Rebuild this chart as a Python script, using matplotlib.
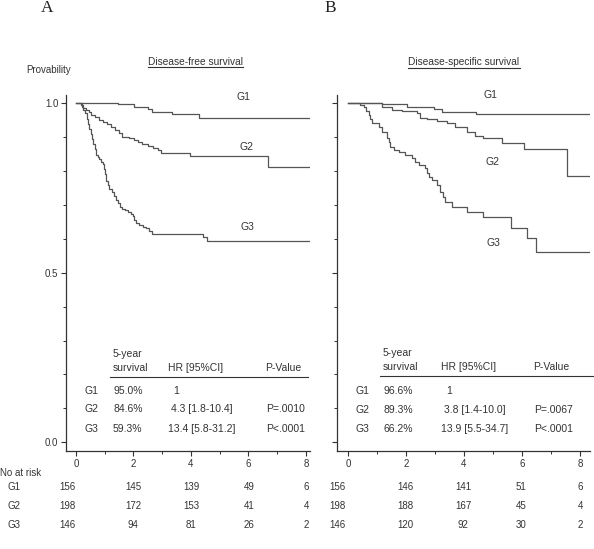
import matplotlib
matplotlib.use("Agg")
import matplotlib.pyplot as plt
from matplotlib.lines import Line2D
from matplotlib.ticker import MultipleLocator

W, H = 594, 549
plt.rcParams['font.family'] = ['Liberation Sans', 'DejaVu Sans']

# ---------------- data ----------------
years_ticks = [0, 2, 4, 6, 8]
groups = ["G1", "G2", "G3"]

# Disease-free survival (panel A): step times (years) and survival after each step
dfs_g1_t = [0, 1.47, 2.03, 2.49, 2.64, 3.34, 4.28, 8.14]
dfs_g1_s = [1.0, 0.997, 0.990, 0.983, 0.975, 0.968, 0.958, 0.958]

dfs_g2_t = [0, 0.17, 0.25, 0.35, 0.44, 0.53, 0.67, 0.81, 0.95, 1.07, 1.22, 1.37,
            1.51, 1.60, 1.86, 2.03, 2.15, 2.30, 2.49, 2.69, 2.84, 2.96, 3.97, 6.67, 8.14]
dfs_g2_s = [1.0, 0.995, 0.987, 0.980, 0.973, 0.965, 0.960, 0.952, 0.946, 0.938, 0.931, 0.922,
            0.912, 0.901, 0.897, 0.892, 0.887, 0.879, 0.874, 0.869, 0.862, 0.852, 0.845, 0.811, 0.811]

dfs_g3_t = [0, 0.17, 0.20, 0.26, 0.33, 0.37, 0.42, 0.46, 0.51, 0.56, 0.60, 0.65, 0.70,
            0.76, 0.81, 0.88, 0.93, 0.97, 1.00, 1.04, 1.10, 1.16, 1.24, 1.33, 1.39, 1.45,
            1.52, 1.60, 1.70, 1.80, 1.90, 1.97, 2.03, 2.09, 2.20, 2.32, 2.45, 2.55, 2.64,
            4.42, 4.54, 8.14]
dfs_g3_s = [1.0, 1.0, 0.990, 0.980, 0.970, 0.955, 0.940, 0.925, 0.910, 0.895, 0.880, 0.865, 0.848,
            0.842, 0.836, 0.828, 0.820, 0.805, 0.790, 0.770, 0.758, 0.748, 0.738, 0.728, 0.715, 0.705,
            0.695, 0.688, 0.684, 0.679, 0.674, 0.668, 0.657, 0.646, 0.640, 0.636, 0.631, 0.623, 0.614,
            0.607, 0.594, 0.594]

# Disease-specific survival (panel B)
dss_g1_t = [0, 1.17, 2.03, 2.95, 3.24, 4.41, 8.34]
dss_g1_s = [1.0, 0.997, 0.988, 0.983, 0.975, 0.968, 0.968]

dss_g2_t = [0, 1.17, 1.52, 1.86, 2.38, 2.49, 2.72, 3.07, 3.41, 3.70, 4.09, 4.38, 4.67,
            5.30, 6.07, 7.56, 8.34]
dss_g2_s = [1.0, 0.988, 0.980, 0.977, 0.970, 0.958, 0.954, 0.948, 0.941, 0.931, 0.916, 0.904, 0.897,
            0.884, 0.864, 0.786, 0.786]

dss_g3_t = [0, 0.43, 0.54, 0.62, 0.71, 0.77, 0.83, 1.06, 1.17, 1.34, 1.40, 1.46, 1.60, 1.75,
            1.98, 2.21, 2.32, 2.44, 2.67, 2.72, 2.81, 2.90, 3.07, 3.18, 3.27, 3.36, 3.59,
            4.09, 4.67, 5.61, 6.16, 6.48, 8.34]
dss_g3_s = [1.0, 0.995, 0.990, 0.978, 0.965, 0.953, 0.941, 0.931, 0.916, 0.897, 0.885, 0.872, 0.862, 0.857,
            0.847, 0.838, 0.828, 0.818, 0.808, 0.794, 0.784, 0.774, 0.759, 0.739, 0.725, 0.710, 0.695,
            0.680, 0.665, 0.633, 0.604, 0.562, 0.562]

# summary tables
dfs_5yr = ["95.0%", "84.6%", "59.3%"]
dfs_hr = ["1", "4.3 [1.8-10.4]", "13.4 [5.8-31.2]"]
dfs_p = ["", "P=.0010", "P<.0001"]
dss_5yr = ["96.6%", "89.3%", "66.2%"]
dss_hr = ["1", "3.8 [1.4-10.0]", "13.9 [5.5-34.7]"]
dss_p = ["", "P=.0067", "P<.0001"]

# number at risk
dfs_risk = [[156, 145, 139, 49, 6], [198, 172, 153, 41, 4], [146, 94, 81, 26, 2]]
dss_risk = [[156, 146, 141, 51, 6], [198, 188, 167, 45, 4], [146, 120, 92, 30, 2]]

# ---------------- drawing ----------------
TXT = '#333333'
LINE = '#555555'

fig = plt.figure(figsize=(W / 100, H / 100), dpi=100)
fig.patch.set_facecolor('white')


def fx(x):
    return x / W


def fy(y):
    return 1 - y / H


def ftext(x, y, s, **kw):
    kw.setdefault('color', TXT)
    kw.setdefault('fontsize', 7.5)
    kw.setdefault('va', 'center')
    return fig.text(fx(x), fy(y), s, **kw)


def make_ax(x0, x1, xlim):
    ax = fig.add_axes([fx(x0), fy(451), (x1 - x0) / W, (451 - 95) / H])
    ax.set_xlim(*xlim)
    ax.set_ylim(-0.0257, 1.0245)
    for s in ['top', 'right']:
        ax.spines[s].set_visible(False)
    for s in ['left', 'bottom']:
        ax.spines[s].set_color('#333333')
        ax.spines[s].set_linewidth(0.9)
    ax.set_xticks(years_ticks)
    ax.xaxis.set_minor_locator(MultipleLocator(1))
    ax.set_yticks([0.0, 0.5, 1.0])
    ax.yaxis.set_minor_locator(MultipleLocator(0.1))
    ax.tick_params(which='major', length=3.5, width=0.8, color='#333333',
                   labelsize=7, labelcolor=TXT, pad=2)
    ax.tick_params(which='minor', length=2, width=0.7, color='#333333')
    ax.tick_params(axis='x', pad=2.5)
    return ax


axA = make_ax(66, 310, (-0.348, 8.14))
axA.set_yticklabels(['0.0', '0.5', '1.0'])
axB = make_ax(337, 590, (-0.379, 8.345))
axB.set_yticklabels([])

for ax, series in [(axA, [(dfs_g1_t, dfs_g1_s), (dfs_g2_t, dfs_g2_s), (dfs_g3_t, dfs_g3_s)]),
                   (axB, [(dss_g1_t, dss_g1_s), (dss_g2_t, dss_g2_s), (dss_g3_t, dss_g3_s)])]:
    for t, s in series:
        ax.step(t, s, where='post', color=LINE, lw=0.9)

# curve labels
for (x, y, s) in [(243, 97, 'G1'), (247, 147, 'G2'), (247, 227, 'G3'),
                  (490, 95, 'G1'), (492, 162, 'G2'), (493, 243, 'G3')]:
    ftext(x, y, s, ha='center', fontsize=7.5)

# panel letters
ftext(47, 11.5, 'A', ha='center', va='baseline', fontsize=12.5, family='Liberation Serif', color='#222222')
ftext(330, 11.5, 'B', ha='center', va='baseline', fontsize=12.5, family='Liberation Serif', color='#222222')

# titles with underline
ftext(26, 70, 'Provability', ha='left', fontsize=7.0)
titles = [ftext(195, 62, 'Disease-free survival', ha='center', fontsize=7.3),
          ftext(464, 62.5, 'Disease-specific survival', ha='center', fontsize=7.3)]
fig.canvas.draw()
r = fig.canvas.get_renderer()
for t, uy in zip(titles, [67, 68]):
    bb = t.get_window_extent(r)
    fig.add_artist(Line2D([bb.x0 / W, bb.x1 / W], [fy(uy), fy(uy)], color='#333333', lw=0.8))

# summary tables
for (c0, c1, c2, c3, lx0, lx1, ly, hy1, hy2, rows, fyr, hr, pv) in [
        (85, 113, 168, 265, 110, 308, 377, 354, 368, [391, 409.5, 428.5], dfs_5yr, dfs_hr, dfs_p),
        (356, 383, 441, 533, 380, 594, 376, 353, 367, [391, 410, 428.5], dss_5yr, dss_hr, dss_p)]:
    ftext(c1, hy1, '5-year', ha='left')
    ftext(c1, hy2, 'survival', ha='left')
    ftext(c2, hy2, 'HR [95%CI]', ha='left')
    ftext(c3, hy2, 'P-Value', ha='left')
    fig.add_artist(Line2D([fx(lx0), fx(lx1)], [fy(ly), fy(ly)], color='#333333', lw=0.8))
    for i, g in enumerate(groups):
        ftext(c0, rows[i], g, ha='left')
        ftext(c1, rows[i], fyr[i], ha='left')
        ftext(c2 + (5 if i == 0 else 3 if i == 1 else 0), rows[i], hr[i], ha='left')
        if pv[i]:
            ftext(c3 + 1, rows[i], pv[i], ha='left')

# number at risk
ftext(0, 473, 'No at risk', ha='left', fontsize=7)
risk_rows_y = [487, 506, 525]
colA = [67, 133, 191, 249, 306]
colB = [337, 405, 463, 521, 580]
for i, g in enumerate(groups):
    ftext(8, risk_rows_y[i], g, ha='left', fontsize=7)
    for j in range(5):
        ftext(colA[j], risk_rows_y[i], str(dfs_risk[i][j]), ha='center', fontsize=7)
        ftext(colB[j], risk_rows_y[i], str(dss_risk[i][j]), ha='center', fontsize=7)

fig.savefig('out.png', dpi=100, facecolor='white')
